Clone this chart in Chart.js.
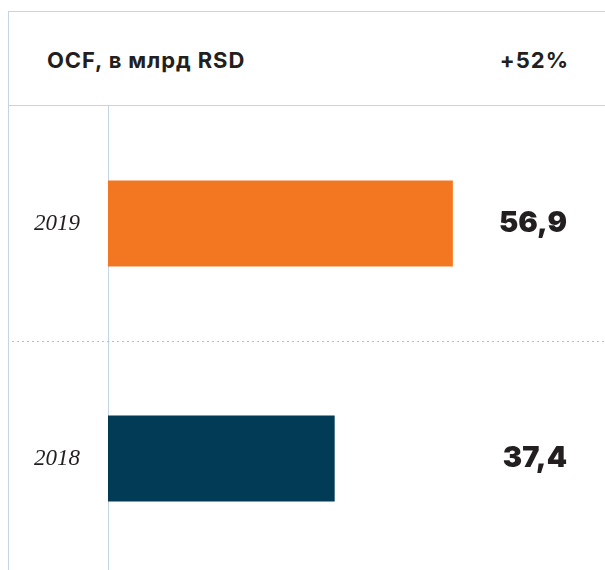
<!DOCTYPE html>
<html>
<head>
<meta charset="utf-8">
<script src="https://cdn.jsdelivr.net/npm/chart.js@4.4.0/dist/chart.umd.min.js"></script>
<style>
    html, body { margin: 0; padding: 0; background: #fff; overflow: hidden; }
    body { width: 605px; height: 570px; position: relative; font-family: Inter, "Noto Sans", sans-serif; color: #231f20; }
    .frame { position: absolute; left: 8px; top: 11px; right: 0; bottom: 0; border-left: 1px solid #c2d4e5; border-top: 1px solid #c2d4e5; }
    .head { position: absolute; left: 0; right: 0; top: 0; height: 93px; border-bottom: 1px solid #c2d4e5; }
    .head span { position: absolute; top: 35px; line-height: 26px; font-size: 22px; font-weight: 700; }
    .title { left: 38px; letter-spacing: 0.9px; }
    .change { right: 36px; letter-spacing: 1px; }
    #chart { position: absolute; left: 0; top: 106px; }
</style>
</head>
<body>
<div class="frame">
    <div class="head">
        <span class="title" id="title"></span>
        <span class="change" id="change"></span>
    </div>
</div>
<canvas id="chart" width="605" height="470"></canvas>
<script>
    'use strict';

    var headerText = 'OCF, в млрд RSD';
    var changeText = '+52%';
    var years = ['2019', '2018'];
    var ocfValues = [56.9, 37.4];
    var valueLabels = ['56,9', '37,4'];
    var barColors = ['#f37721', '#023b56'];

    document.getElementById('title').textContent = headerText;
    document.getElementById('change').textContent = changeText;

    // dotted line between the two years, running out into the label column
    var separatorPlugin = {
        id: 'separator',
        beforeDatasetsDraw: function(chart) {
            var yScale = chart.scales.y;
            var ctx = chart.ctx;
            ctx.save();
            ctx.strokeStyle = '#a9c2da';
            ctx.lineWidth = 1;
            ctx.setLineDash([2, 3]);
            for (var i = 1; i < years.length; i++) {
                var py = Math.round((yScale.getPixelForValue(i - 1) + yScale.getPixelForValue(i)) / 2) + 0.5;
                ctx.beginPath();
                ctx.moveTo(12, py);
                ctx.lineTo(chart.width, py);
                ctx.stroke();
            }
            ctx.restore();
        }
    };

    // big numbers at the right end of each row
    var valueLabelsPlugin = {
        id: 'valueLabels',
        afterDatasetsDraw: function(chart) {
            var ctx = chart.ctx;
            var meta = chart.getDatasetMeta(0);
            ctx.save();
            ctx.font = '900 29px Inter';
            ctx.fillStyle = '#231f20';
            ctx.textAlign = 'right';
            ctx.textBaseline = 'middle';
            meta.data.forEach(function(bar, i) {
                ctx.fillText(valueLabels[i], chart.chartArea.right - 38, bar.y);
            });
            ctx.restore();
        }
    };

    var options = {
        type: 'bar',
        data: {
            labels: years,
            datasets: [{
                data: ocfValues,
                backgroundColor: barColors,
                borderWidth: 0,
                categoryPercentage: 1,
                barPercentage: 0.366
            }]
        },
        options: {
            indexAxis: 'y',
            responsive: false,
            animation: false,
            devicePixelRatio: 1,
            layout: { padding: 0 },
            plugins: {
                legend: { display: false },
                tooltip: { enabled: false }
            },
            scales: {
                x: {
                    display: false,
                    min: 0,
                    max: 82
                },
                y: {
                    grid: { display: false, drawTicks: false },
                    border: { display: true, color: '#c2d4e5', width: 1 },
                    ticks: {
                        padding: 28,
                        color: '#231f20',
                        font: { family: '"Liberation Serif", serif', style: 'italic', size: 23 }
                    },
                    afterFit: function(scale) {
                        // fixed label column, no extra padding above/below the rows
                        scale.width = 108;
                        scale.paddingTop = 0;
                        scale.paddingBottom = 0;
                    }
                }
            }
        },
        plugins: [separatorPlugin, valueLabelsPlugin]
    };

    var chart = new Chart(document.getElementById('chart'), options);
</script>
</body>
</html>
